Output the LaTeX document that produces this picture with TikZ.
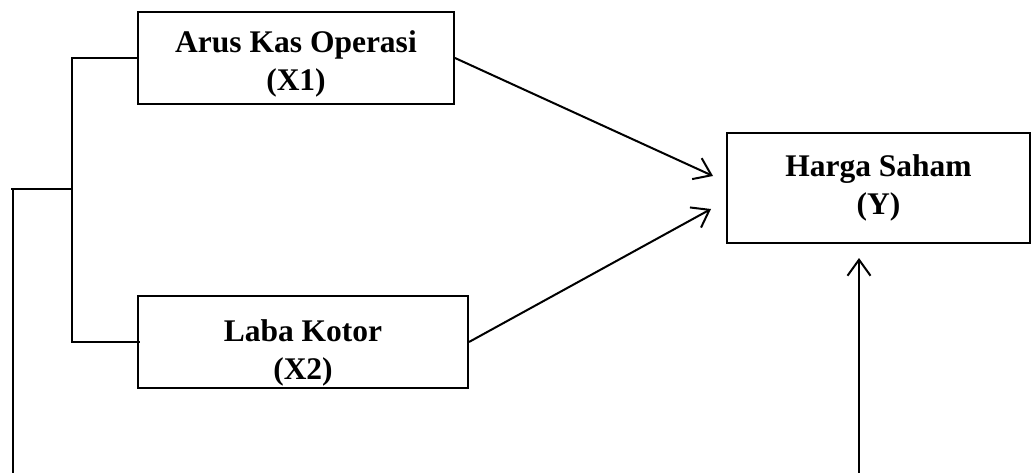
\documentclass[tikz,border=0pt]{standalone}
\usepackage{fontspec}
\setmainfont{Liberation Serif}
\usetikzlibrary{arrows.meta}
\begin{document}
\begin{tikzpicture}[x=1pt,y=-1pt,
  line width=2pt,
  varbox/.style={draw, rectangle, inner sep=0pt, align=center,
    font=\fontsize{31.5}{38}\selectfont\bfseries},
  link/.style={line width=2pt},
  arr/.style={line width=2pt, -{Straight Barb[length=16pt,width=23pt,line width=2pt]}}]
\useasboundingbox (0,0) rectangle (1032,473);
\node[varbox, minimum width=316pt, minimum height=92pt] (X1) at (296,58)
  {\rule{0pt}{34pt}Arus Kas Operasi\\(X1)};
\node[varbox, minimum width=330pt, minimum height=92pt] (X2) at (303,342)
  {\rule{0pt}{44pt}Laba Kotor\\(X2)};
\node[varbox, minimum width=303pt, minimum height=110pt] (Y) at (878.5,188)
  {Harga Saham\\(Y)};
\coordinate (t1) at (713,176);
\coordinate (t2) at (711,209);
\coordinate (t3) at (859,258);
\coordinate (b3) at (859,473);
\coordinate (j) at (72,189);
\coordinate (bl) at (13,473);
\draw[arr] (X1.east) -- (t1);
\draw[arr] (X2.east) -- (t2);
\draw[arr] (b3) -- (t3);
\draw[link] (X1.west) -- (72,58) -- (72,342) -- ([xshift=3pt]X2.west);
\draw[link] (j) -- (11,189);
\draw[link] (13,189) -- (bl);
\end{tikzpicture}
\end{document}
